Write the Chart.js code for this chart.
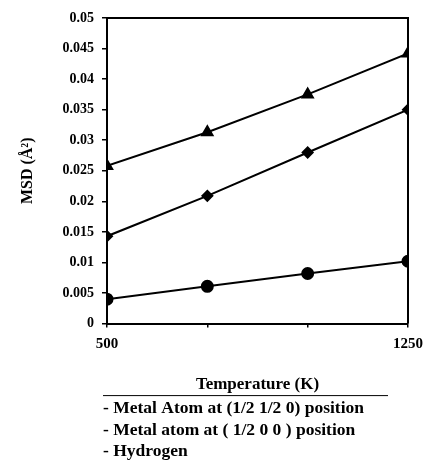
<!DOCTYPE html>
<html lang="en">
<head>
  <meta charset="UTF-8">
  <title>MSD vs Temperature</title>
  <script src="https://cdn.jsdelivr.net/npm/chart.js"></script>
  <style>
    html, body { margin: 0; padding: 0; background: #fff; }
    #wrap { width: 428px; height: 462px; }
  </style>
</head>
<body>
  <div id="wrap"><canvas id="msdChart" width="428" height="462"></canvas></div>

  <script>
    // temperatures (K)
    const temperatures = [500, 750, 1000, 1250];

    // MSD values (Å^2)
    const metalHalfHalf = [0.0258, 0.0313, 0.0375, 0.0442];
    const metalHalfZero = [0.0143, 0.0209, 0.0280, 0.0350];
    const hydrogen = [0.0040, 0.0061, 0.0082, 0.0102];

    const seriesNames = [
      'Metal Atom at (1/2 1/2 0) position',
      'Metal atom at ( 1/2 0 0 ) position',
      'Hydrogen'
    ];

    const xTickLabels = [500, 1250]; // only ends are labelled
    const font = 'Liberation Serif';

    function toPoints(vals) {
      return vals.map((v, i) => ({ x: temperatures[i], y: v }));
    }

    // ignore label overflow so layout padding alone places the plot box
    function noOverflow(scale) {
      scale.paddingLeft = 0;
      scale.paddingRight = 0;
      scale.paddingTop = 0;
      scale.paddingBottom = 0;
    }

    // frame around plot + legend text under the axis title
    const framePlugin = {
      id: 'frame',
      afterDraw(chart) {
        const { ctx, chartArea } = chart;
        ctx.save();
        ctx.strokeStyle = '#000';
        ctx.lineWidth = 2;
        ctx.beginPath();
        ctx.moveTo(chartArea.left, chartArea.top);
        ctx.lineTo(chartArea.right, chartArea.top);
        ctx.lineTo(chartArea.right, chartArea.bottom);
        ctx.stroke();

        // rule under the x axis title
        const ruleY = chartArea.bottom + 72;
        ctx.lineWidth = 1;
        ctx.beginPath();
        ctx.moveTo(103, ruleY);
        ctx.lineTo(388, ruleY);
        ctx.stroke();

        ctx.fillStyle = '#000';
        ctx.font = 'bold 17.5px "' + font + '"';
        ctx.textBaseline = 'middle';
        ctx.textAlign = 'left';
        chart.data.datasets.forEach((ds, i) => {
          ctx.fillText('- ' + ds.label, 103, ruleY + 13 + i * 21.5);
        });
        ctx.restore();
      }
    };

    const common = {
      borderColor: '#000',
      backgroundColor: '#000',
      borderWidth: 2,
      tension: 0,
      pointBorderColor: '#000',
      pointBackgroundColor: '#000'
    };

    new Chart(document.getElementById('msdChart'), {
      type: 'line',
      data: {
        datasets: [
          Object.assign({ label: seriesNames[0], data: toPoints(metalHalfHalf), pointStyle: 'triangle', pointRadius: 6 }, common),
          Object.assign({ label: seriesNames[1], data: toPoints(metalHalfZero), pointStyle: 'rectRot', pointRadius: 5 }, common),
          Object.assign({ label: seriesNames[2], data: toPoints(hydrogen), pointStyle: 'circle', pointRadius: 5.5 }, common)
        ]
      },
      options: {
        responsive: false,
        animation: false,
        layout: { padding: { left: 18, right: 20, top: 18, bottom: 67 } },
        plugins: {
          legend: { display: false },
          tooltip: { enabled: false }
        },
        scales: {
          x: {
            type: 'linear',
            min: 500,
            max: 1250,
            afterBuildTicks(scale) {
              scale.ticks = temperatures.map(v => ({ value: v }));
            },
            afterFit: noOverflow,
            ticks: {
              color: '#000',
              font: { family: font, size: 15, weight: 'bold' },
              padding: 8,
              maxRotation: 0,
              callback: v => xTickLabels.includes(v) ? String(v) : ''
            },
            grid: { display: true, drawOnChartArea: false, drawTicks: true, tickLength: 4, color: '#000', lineWidth: 1.5 },
            border: { display: true, color: '#000', width: 2 },
            title: {
              display: true,
              text: 'Temperature (K)',
              color: '#000',
              font: { family: font, size: 17, weight: 'bold' },
              padding: { top: 13, bottom: 0 }
            }
          },
          y: {
            min: 0,
            max: 0.05,
            afterFit(scale) { noOverflow(scale); scale.width = 89; },
            ticks: {
              stepSize: 0.005,
              color: '#000',
              font: { family: font, size: 14, weight: 'bold' },
              padding: 8,
              callback: v => String(Math.round(v * 1000) / 1000)
            },
            grid: { display: true, drawOnChartArea: false, drawTicks: true, tickLength: 5, color: '#000', lineWidth: 1.5 },
            border: { display: true, color: '#000', width: 2 },
            title: {
              display: true,
              text: 'MSD (\u00c5\u00b2)',
              color: '#000',
              font: { family: font, size: 16, weight: 'bold' },
              padding: { top: 0, bottom: 10 }
            }
          }
        }
      },
      plugins: [framePlugin]
    });
  </script>
</body>
</html>
